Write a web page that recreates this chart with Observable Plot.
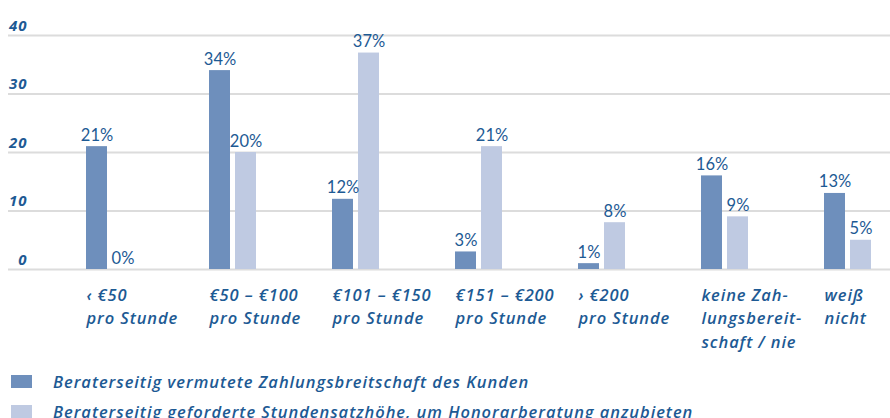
<!DOCTYPE html>
<html><head><meta charset="utf-8">
<script src="https://cdn.jsdelivr.net/npm/d3@7"></script>
<script src="https://cdn.jsdelivr.net/npm/@observablehq/plot@0.6"></script>
<style>
body{margin:0;background:#fff;font-family:"Open Sans",Lato,sans-serif;}
#wrap{position:relative;width:890px;height:418px;overflow:hidden;}
#legend{position:absolute;left:0;top:360px;width:890px;height:58px;}
.item{position:absolute;left:11px;display:flex;align-items:center;height:14px;}
.sw{width:21px;height:13px;flex:none;}
.lab{margin-left:21px;font-family:"Open Sans",sans-serif;font-size:16.5px;letter-spacing:0.95px;font-weight:600;font-style:italic;color:#1d5a94;white-space:nowrap;}
.cat-labels text{letter-spacing:0.9px;}
.tick-labels text{letter-spacing:1px;}
</style></head><body>
<div id="wrap"><div id="chart"></div><div id="legend"></div></div>
<script>
const categories = ["‹ €50\npro Stunde", "€50 – €100\npro Stunde", "€101 – €150\npro Stunde", "€151 – €200\npro Stunde", "› €200\npro Stunde", "keine Zah-\nlungsbereit-\nschaft / nie", "weiß\nnicht"];
const seriesNames = ["Beraterseitig vermutete Zahlungsbreitschaft des Kunden", "Beraterseitig geforderte Stundensatzhöhe, um Honorarberatung anzubieten"];
const vermutet = [21, 34, 12, 3, 1, 16, 13];
const gefordert = [0, 20, 37, 21, 8, 9, 5];
const yTicks = [0, 10, 20, 30, 40];
const colors = ["#6e8fbc", "#bfcae2"];
const textColor = "#1d5a94";

const dataA = categories.map((c, i) => ({cat: c, v: vermutet[i]}));
const dataB = categories.map((c, i) => ({cat: c, v: gefordert[i]}));

const chart = Plot.plot({
  width: 890, height: 360,
  marginTop: 35, marginBottom: 91, marginLeft: 8, marginRight: 0,
  style: {fontFamily: "Lato, sans-serif", background: "#fff"},
  x: {type: "band", domain: categories, range: [84, 873], paddingInner: 0.62, paddingOuter: 0, axis: null},
  y: {domain: [0, 40], axis: null},
  marks: [
    Plot.ruleY(yTicks, {y: d => d, stroke: "#dcdcdc", strokeWidth: 2}),
    Plot.text(yTicks, {y: d => d, text: d => String(d), frameAnchor: "left", dx: 19, dy: -5, textAnchor: "end", lineAnchor: "bottom", fill: textColor, fontSize: 15, fontWeight: 700, fontStyle: "italic", fontFamily: "Open Sans, sans-serif", className: "tick-labels"}),
    Plot.barY(dataA, {x: "cat", y: "v", fill: colors[0], insetRight: 26}),
    Plot.barY(dataB, {x: "cat", y: "v", fill: colors[1], insetLeft: 26}),
    Plot.text(dataA, {x: "cat", y: "v", text: d => d.v + "%", dx: -13, dy: -6, lineAnchor: "bottom", fill: textColor, fontSize: 16.5}),
    Plot.text(dataB, {x: "cat", y: "v", text: d => d.v + "%", dx: 13, dy: -6, lineAnchor: "bottom", fill: textColor, fontSize: 16.5}),
    Plot.text(categories, {x: d => d, y: () => 0, text: d => d, textAnchor: "start", dx: -23.5, dy: 14, lineAnchor: "top", lineHeight: 1.45, fill: textColor, fontSize: 16.5, fontWeight: 600, fontStyle: "italic", fontFamily: "Open Sans, sans-serif", className: "cat-labels"})
  ]
});
document.getElementById("chart").appendChild(chart);

const legend = document.getElementById("legend");
seriesNames.forEach((name, i) => {
  const item = document.createElement("div");
  item.className = "item";
  item.style.top = (14 + i * 30) + "px";
  const sw = document.createElement("div");
  sw.className = "sw";
  sw.style.background = colors[i];
  const lab = document.createElement("span");
  lab.className = "lab";
  lab.textContent = name;
  item.appendChild(sw);
  item.appendChild(lab);
  legend.appendChild(item);
});
</script>
</body></html>
